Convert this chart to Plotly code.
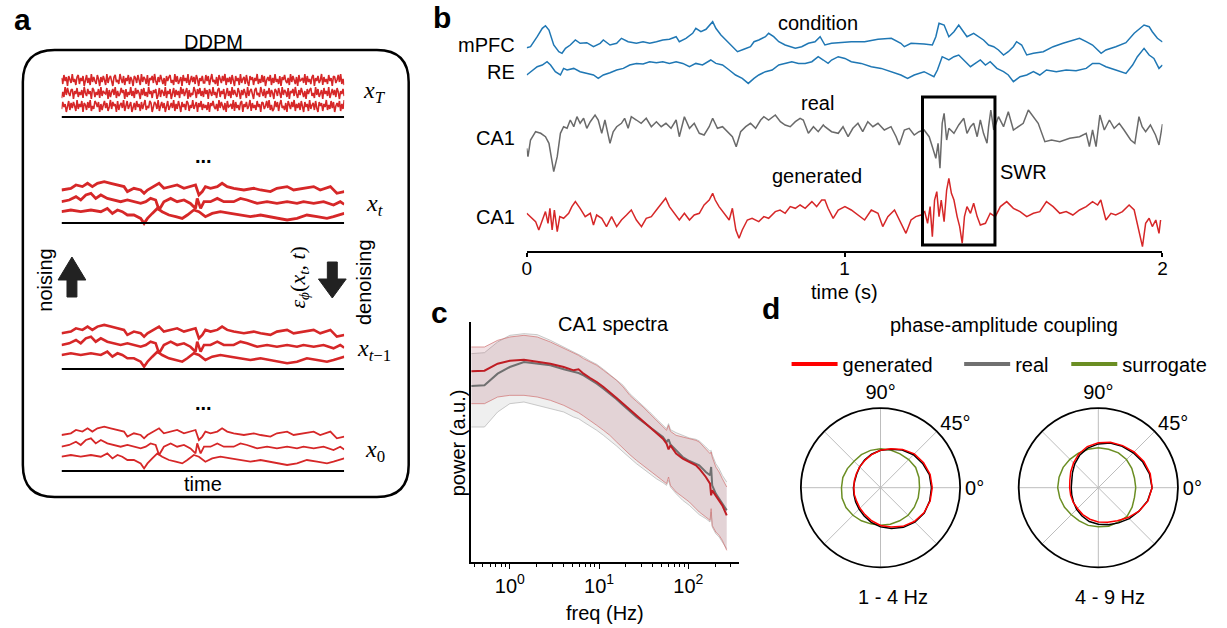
import numpy as np
import plotly.graph_objects as go

W, H = 1227, 628


def fx(x):
    return x / W


def fy(y):
    return 1 - y / H


RED = "#d62728"
BLUE = "#1f77b4"
FONT = "Liberation Sans, Arial, sans-serif"
SERIF = "Liberation Serif, DejaVu Serif, serif"

# ---------------- panel a: diffusion schematic (normalised time, a.u.) ----------------
noise = [2, -4, 5, -1, 3, -6, 4, 0, -3, 6, -2, 1, -5, 3, 5, -4, 2, -1, 4, -6, 0, 5, -3, 2, -5,
         6, -2, 3, -1, -4, 5, 1, -6, 3, -2, 4, 0, -5, 6, -3, 2, 4, -1, -6, 3, 5, -2, 0, -4, 6,
         1, -3, 4, -5, 2, -1, 5, -4, 3, 0, -6, 4, 2, -3, 5, -1, -5, 6, -2, 3, 1, -4, 5, -6, 2,
         0, 4, -3, 6, -1, -5, 3, -2, 5, 1, -4, 2, -6, 4, -1, 3, 5, -3, 0, -5, 6, -2, 4, -4, 1,
         3, -6, 5, -1, 2, -3, 6, -5, 0, 4, -2, 3, -4, 5, 1, -6, 2, -1, 4, -3]
noise2 = [-3, 5, -1, 4, -5, 2, 6, -2, 0, -4, 3, -6, 5, 1, -3, 4, -1, 6, -5, 2, -2, 3, -4, 5, 0,
          -6, 4, -1, 2, -5, 6, -3, 1, 3, -4, 5, -2, -6, 4, 0, 3, -5, 2, -1, 6, -4, 1, -3, 5, -2,
          4, -6, 0, 3, -1, 5, -5, 2, -3, 6, -2, 1, -4, 4, -6, 3, 0, 5, -1, -3, 2, -5, 6, -2, 4,
          1, -4, 3, -6, 5, -1, 0, 2, -3, 6, -5, 4, -2, 1, -4, 3, 5, -6, 2, -1, 4, -3, 0, 6, -5,
          3, -2, 1, -4, 5, -1, 2, -6, 4, 3, -3, 0, 5, -2, 6, -4, 1, -5]

x0_top = [(0.000, -1.7), (0.033, 0), (0.051, 3.3), (0.074, 1.7), (0.092, 5), (0.109, 1.7),
          (0.127, 5), (0.151, 6.7), (0.174, 5), (0.198, 3.3), (0.221, 1.7), (0.233, -3.3),
          (0.256, 0), (0.280, -1.7), (0.292, -5), (0.304, -1.7), (0.327, 1.7), (0.345, 5),
          (0.362, 0), (0.386, 1.7), (0.409, 3.3), (0.433, 0), (0.456, 1.7), (0.474, 3.3),
          (0.486, -6.7), (0.498, -3.3), (0.509, 1.7), (0.527, 0), (0.551, 1.7), (0.568, 5),
          (0.586, 1.7), (0.609, 0), (0.645, -1.7), (0.680, 0), (0.704, -1.7), (0.739, -3.3),
          (0.762, 0), (0.798, 1.7), (0.821, -1.7), (0.856, 0), (0.892, 1.7), (0.915, -1.7),
          (0.951, 1.7), (0.974, -5), (1.000, -3.3)]
x0_mid = [(0.000, 0), (0.027, 1.7), (0.051, 5), (0.068, 1.7), (0.086, 6.7), (0.104, 8.3),
          (0.121, 3.3), (0.139, 6.7), (0.162, 3.3), (0.186, 1.7), (0.209, 0), (0.233, 1.7),
          (0.256, 0), (0.280, -1.7), (0.298, 0), (0.315, 3.3), (0.333, 1.7), (0.345, -8.3),
          (0.362, 0), (0.386, 3.3), (0.409, 0), (0.433, 1.7), (0.456, -1.7), (0.474, -6.7),
          (0.480, 3.3), (0.492, -6.7), (0.504, 0), (0.527, 0), (0.551, 3.3), (0.574, 0),
          (0.609, 0), (0.633, 3.3), (0.656, 1.7), (0.692, -1.7), (0.727, 0), (0.762, -1.7),
          (0.798, 0), (0.833, -1.7), (0.856, 0), (0.892, -1.7), (0.927, 0), (0.962, -3.3),
          (0.986, 0), (1.000, -2.7)]
x0_bot = [(0.000, 0), (0.033, 1.7), (0.068, 0), (0.104, 1.7), (0.139, 0), (0.162, 3.3),
          (0.180, -1.7), (0.198, 1.7), (0.215, 0), (0.233, -3.3), (0.256, -3.3), (0.280, -6.7),
          (0.292, -11.7), (0.304, -6.7), (0.321, -1.7), (0.339, 3.3), (0.356, 0), (0.380, -3.3),
          (0.404, -5), (0.427, -6.7), (0.445, -3.3), (0.468, 1.7), (0.486, 0), (0.509, -5),
          (0.533, -1.7), (0.562, 0), (0.598, -1.7), (0.633, -3.3), (0.668, -5), (0.704, -3.3),
          (0.739, -5), (0.762, -6.7), (0.798, -8.3), (0.833, -6.7), (0.868, -3.3), (0.904, -5),
          (0.939, -6.7), (0.962, -5), (0.986, -3.3), (1.000, -1.7)]

# ---------------- panel b: 2 s of LFP (time in s, a.u.) ----------------
mpfc = [(0.000, 2.3), (0.012, 3.3), (0.033, 13.3), (0.049, 21.7), (0.059, 24.3), (0.070, 20.0),
        (0.085, 5.0), (0.101, -1.7), (0.111, -3.3), (0.122, 1.7), (0.137, 5.0), (0.153, 10.0),
        (0.168, 6.7), (0.189, 7.3), (0.210, 3.3), (0.231, 6.7), (0.241, 10.0), (0.262, 5.0),
        (0.283, 6.7), (0.298, 11.7), (0.319, 8.3), (0.345, 6.7), (0.366, 8.3), (0.387, 6.7),
        (0.408, 8.3), (0.428, 10.0), (0.449, 10.7), (0.470, 13.3), (0.480, 8.3), (0.501, 11.7),
        (0.522, 16.7), (0.532, 21.7), (0.548, 18.3), (0.564, 20.7), (0.585, 28.3), (0.595, 21.7),
        (0.611, 15.0), (0.626, 10.0), (0.647, 3.3), (0.663, -1.7), (0.683, 0.7), (0.704, 3.3),
        (0.715, 8.3), (0.730, 10.0), (0.751, 13.3), (0.761, 16.7), (0.777, 13.3), (0.793, 8.3),
        (0.813, 5.0), (0.829, 3.3), (0.845, 1.7), (0.865, 3.3), (0.886, 6.7), (0.907, 8.3),
        (0.923, 13.3), (0.938, 5.0), (0.959, 6.7), (0.980, 7.3), (1.021, 8.3), (1.063, 8.3),
        (1.105, 10.7), (1.147, 11.7), (1.177, 6.7), (1.188, 3.3), (1.209, 6.7), (1.250, 6.0),
        (1.276, 5.0), (1.287, 13.3), (1.297, 26.7), (1.313, 25.0), (1.328, 13.3), (1.344, 18.3),
        (1.359, 25.0), (1.370, 20.0), (1.385, 13.3), (1.406, 16.7), (1.427, 11.7), (1.437, 10.0),
        (1.453, 5.0), (1.469, 3.3), (1.484, 0.0), (1.500, -5.0), (1.515, -1.7), (1.531, 3.3),
        (1.541, 8.3), (1.557, 5.0), (1.573, -5.0), (1.594, -3.3), (1.625, -1.7), (1.656, 3.3),
        (1.687, 6.7), (1.718, 10.0), (1.739, 11.7), (1.760, 8.3), (1.780, 5.0), (1.807, -3.3),
        (1.822, 0.0), (1.853, 3.3), (1.885, 7.3), (1.911, 16.7), (1.932, 21.7), (1.942, 25.0),
        (1.958, 23.3), (1.968, 18.3), (1.984, 11.7), (2.000, 8.0)]
re = [(0.000, -3.3), (0.012, 0), (0.033, 5), (0.049, 6.7), (0.064, 10), (0.075, 6.7), (0.090, 0),
      (0.106, -3.3), (0.116, 3.3), (0.127, 1.7), (0.148, 3.3), (0.168, 0), (0.189, -1.7),
      (0.210, -3.3), (0.225, -6.7), (0.241, -3.3), (0.262, -1), (0.283, 1.7), (0.304, 3.3),
      (0.324, 6.7), (0.345, 8.3), (0.366, 7.7), (0.387, 10), (0.408, 9), (0.428, 10),
      (0.449, 8.3), (0.470, 10), (0.491, 8.3), (0.512, 5), (0.532, 8.3), (0.553, 6.7),
      (0.579, 11.7), (0.595, 8.3), (0.616, 6.7), (0.637, 1.7), (0.657, -3.3), (0.678, -6.7),
      (0.697, -11.7), (0.715, -6.7), (0.730, -3.3), (0.751, 0), (0.772, 1.7), (0.793, 6.7),
      (0.813, 8.3), (0.834, 10), (0.855, 8.3), (0.876, 8.3), (0.897, 10), (0.917, 15),
      (0.933, 11.7), (0.948, 8.3), (0.959, 11.7), (0.980, 15), (1.001, 13.3), (1.021, 10),
      (1.052, 8.3), (1.084, 5), (1.115, 3.3), (1.147, 0), (1.177, -3.3), (1.198, -6.7),
      (1.219, -3.3), (1.250, 0), (1.281, -5), (1.292, 1.7), (1.307, 15), (1.328, 11.7),
      (1.344, 15), (1.359, 16.7), (1.375, 11.7), (1.396, 5), (1.411, 8.3), (1.427, 11.7),
      (1.443, 6.7), (1.458, 10), (1.479, 3.3), (1.500, 0), (1.515, -3.3), (1.531, -10),
      (1.552, -5), (1.573, -3.3), (1.594, 0), (1.614, -3.3), (1.635, 1.7), (1.666, 0),
      (1.697, 1.7), (1.728, 1), (1.760, 3.3), (1.780, 8.3), (1.801, 8.3), (1.822, 5),
      (1.853, 1.7), (1.885, -1.7), (1.906, 6.7), (1.921, 15), (1.942, 23.3), (1.958, 16.7),
      (1.973, 13.3), (1.989, 3.3), (2.000, 6.7)]
ca1_real = [(0.000, -18.3), (0.004, -26.7), (0.012, -10), (0.028, -1.7), (0.044, -3.3),
            (0.059, -6.7), (0.070, -13.3), (0.080, -30), (0.085, -41.7), (0.096, -26.7),
            (0.106, -3.3), (0.116, 3.3), (0.127, 1.7), (0.137, 10), (0.148, 3.3), (0.158, 13.3),
            (0.168, 6.7), (0.179, 11.7), (0.189, 1.7), (0.200, 8.3), (0.215, 15), (0.225, 10),
            (0.236, -3.3), (0.246, 10), (0.262, -13.3), (0.272, -1.7), (0.283, 3.3), (0.298, 6.7),
            (0.308, 11.7), (0.319, 1.7), (0.329, 13.3), (0.345, 10), (0.360, 6.7), (0.376, 11.7),
            (0.392, 3.3), (0.408, 8.3), (0.423, 3.3), (0.438, 6.7), (0.454, 1.7), (0.470, 10),
            (0.480, -6.7), (0.496, 13.3), (0.512, 1.7), (0.527, 6.7), (0.543, -3.3), (0.558, -5),
            (0.574, 3.3), (0.585, 11.7), (0.600, 1.7), (0.616, 3.3), (0.632, -1.7), (0.647, -6.7),
            (0.659, -16.7), (0.673, -1.7), (0.689, 3.3), (0.704, 6.7), (0.720, 1.7), (0.736, 10),
            (0.746, 13.3), (0.761, 10), (0.782, 15), (0.798, 8.3), (0.813, 5), (0.829, 3.3),
            (0.845, 8.3), (0.860, 11.7), (0.870, 10), (0.886, -3.3), (0.902, 3.3), (0.917, -1.7),
            (0.933, 5), (0.938, 3.3), (0.959, -1.7), (0.980, -3.3), (0.995, 3.3), (1.011, -6.7),
            (1.026, 1.7), (1.042, 6.7), (1.057, -1.7), (1.073, 8.3), (1.089, 3.3), (1.105, 6.7),
            (1.125, 0), (1.146, 3.3), (1.162, -6.7), (1.172, -15), (1.188, 0), (1.203, 1.7),
            (1.219, -5), (1.234, -1.7), (1.250, 0), (1.266, -6.7), (1.276, -16.7), (1.287, -28.3),
            (1.294, -13.3), (1.300, -38.3), (1.307, 6.7), (1.313, 16.7), (1.321, -10),
            (1.328, 1.7), (1.344, -3.3), (1.359, 5), (1.375, 11.7), (1.385, -3.3), (1.396, 3.3),
            (1.406, 6.7), (1.417, -6.7), (1.427, 10), (1.437, -3.3), (1.448, -13.3), (1.453, 3.3),
            (1.460, 20), (1.469, 0), (1.484, 13.3), (1.500, 3.3), (1.515, 18.3), (1.531, 0),
            (1.547, 3.3), (1.562, 6.7), (1.578, 20), (1.594, 13.3), (1.609, 6.7), (1.630, -11.7),
            (1.651, -10), (1.677, -11.7), (1.708, -8.3), (1.739, -6.7), (1.760, -3.3),
            (1.770, -16.7), (1.780, 0), (1.791, -16.7), (1.803, 15), (1.817, 0), (1.833, 10),
            (1.848, 1.7), (1.864, 6.7), (1.879, 0), (1.900, -10), (1.913, -13.3), (1.926, 13.3),
            (1.936, 3.3), (1.947, -1.7), (1.962, 5), (1.978, -5), (1.989, -15), (1.996, -3.3),
            (2.000, 6)]
ca1_gen = [(0.000, 0), (0.012, -3.3), (0.028, -8.3), (0.038, -16.7), (0.049, -6.7), (0.059, 1.7),
           (0.067, -10), (0.073, 5), (0.080, -16.7), (0.087, 3.3), (0.096, -18.3), (0.104, -3.3),
           (0.116, -5), (0.132, 0), (0.142, 6.7), (0.153, 11.7), (0.168, 5), (0.184, -3.3),
           (0.200, 0), (0.210, -11.7), (0.220, -1.7), (0.236, -5), (0.251, -13.3), (0.267, -3.3),
           (0.283, -13.3), (0.298, -6.7), (0.314, -1.7), (0.329, 3.3), (0.345, -6.7),
           (0.361, -13.3), (0.376, -5), (0.392, -3.3), (0.408, 3.3), (0.423, 10), (0.437, 15),
           (0.449, 6.7), (0.465, 0), (0.480, -6.7), (0.496, 0), (0.512, -6.7), (0.527, -1.7),
           (0.543, 0), (0.558, 8.3), (0.574, 13.3), (0.585, 20), (0.593, 13.3), (0.605, 6.7),
           (0.621, 0), (0.637, -6.7), (0.647, 5), (0.658, -16.7), (0.668, -25), (0.678, -16.7),
           (0.694, -6.7), (0.709, -5), (0.730, -8.3), (0.746, -3.3), (0.761, -5), (0.782, 1.7),
           (0.797, 3.3), (0.813, 0), (0.829, 6.7), (0.845, 5), (0.860, 8.3), (0.876, 5),
           (0.897, 11.7), (0.912, 6.7), (0.928, 13.3), (0.938, 13.3), (0.948, 5), (0.964, -5),
           (0.980, 3.3), (1.001, 6.7), (1.021, 3.3), (1.042, -1.7), (1.063, -6.7), (1.084, 3.3),
           (1.105, 0), (1.120, -13.3), (1.136, -3.3), (1.157, 3.3), (1.177, -10), (1.193, -20),
           (1.209, -6.7), (1.224, -3.3), (1.240, -1.7), (1.252, 1.7), (1.261, -10), (1.269, 6.7),
           (1.276, -23.3), (1.283, 13.3), (1.290, 21.7), (1.297, -3.3), (1.304, 13.3),
           (1.313, -8.3), (1.321, 23.3), (1.328, 35), (1.336, 20), (1.344, 13.3), (1.354, -3.3),
           (1.362, -13.3), (1.370, -30), (1.377, -3.3), (1.385, 6.7), (1.396, 0), (1.406, 10),
           (1.417, -3.3), (1.427, -11.7), (1.443, -10), (1.458, 0), (1.474, -3.3), (1.490, 6.7),
           (1.510, 11.7), (1.531, 5), (1.552, 1.7), (1.573, -3.3), (1.594, 0), (1.614, 1.7),
           (1.635, 11.7), (1.656, 6.7), (1.677, 0), (1.697, 1.7), (1.718, -1.7), (1.739, 3.3),
           (1.760, 6.7), (1.780, 11.7), (1.796, 8.3), (1.806, 13.3), (1.822, -6.7), (1.838, 0),
           (1.853, -1.7), (1.874, 1.7), (1.895, 8.3), (1.911, 3.3), (1.921, -10), (1.932, -25),
           (1.937, -33.3), (1.947, -10), (1.958, -5), (1.968, -13.3), (1.979, -6.7),
           (1.989, -20), (1.994, -6.7)]
swr_window = (1.245, 1.473)

# ---------------- panel c: CA1 spectra (Hz, log10 power a.u.) ----------------
freq = [0.37, 0.52, 0.73, 1.0, 1.44, 2.03, 2.85, 4.02, 5.19, 5.89, 6.7, 7.94, 9.42, 11.2, 13.2,
        15.7, 18.6, 22.1, 26.2, 31.1, 36.9, 43.7, 51.9, 57, 60, 63, 72.9, 86.5, 102.6, 121.6,
        132.5, 157, 175, 180, 185, 203, 221, 240, 269]
gen_mean = [5.72, 5.74, 5.95, 6.04, 6.07, 6.02, 5.95, 5.85, 5.75, 5.78, 5.65, 5.52, 5.40, 5.25,
            5.10, 4.92, 4.75, 4.57, 4.40, 4.22, 4.05, 3.88, 3.70, 3.55, 3.38, 3.50, 3.25, 3.10,
            3.00, 2.90, 2.80, 2.55, 2.35, 2.00, 2.15, 2.00, 1.85, 1.70, 1.40]
real_mean = [5.28, 5.30, 5.65, 5.85, 6.00, 5.95, 5.90, 5.78, 5.70, 5.67, 5.60, 5.48, 5.35, 5.20,
             5.05, 4.88, 4.70, 4.52, 4.35, 4.20, 4.05, 3.90, 3.75, 3.60, 3.68, 3.53, 3.35, 3.15,
             3.03, 2.95, 2.90, 2.70, 2.60, 2.85, 2.30, 2.05, 1.90, 1.75, 1.55]
gen_hi = [6.45, 6.45, 6.65, 6.75, 6.80, 6.75, 6.60, 6.40, 6.25, 6.20, 6.10, 6.00, 5.90, 5.75,
          5.60, 5.45, 5.25, 5.00, 4.82, 4.65, 4.45, 4.25, 4.05, 3.95, 4.10, 3.92, 3.80, 3.75,
          3.70, 3.65, 3.60, 3.40, 3.25, 3.30, 3.15, 2.85, 2.70, 2.50, 2.25]
gen_lo = [4.75, 4.75, 4.95, 5.00, 5.00, 4.95, 4.85, 4.70, 4.55, 4.48, 4.38, 4.25, 4.10, 3.95,
          3.80, 3.60, 3.40, 3.22, 3.05, 2.90, 2.75, 2.60, 2.45, 2.35, 2.55, 2.30, 2.10, 1.95,
          1.80, 1.60, 1.50, 1.35, 1.25, 1.60, 1.10, 0.90, 0.80, 0.65, 0.35]
real_hi = [6.25, 6.28, 6.60, 6.80, 6.85, 6.82, 6.65, 6.45, 6.30, 6.24, 6.15, 6.03, 5.93, 5.78,
           5.63, 5.48, 5.30, 5.05, 4.87, 4.70, 4.50, 4.30, 4.10, 4.00, 4.15, 3.97, 3.88, 3.80,
           3.72, 3.68, 3.63, 3.45, 3.32, 3.35, 3.22, 2.95, 2.80, 2.60, 2.40]
real_lo = [4.05, 4.05, 4.50, 4.75, 4.80, 4.70, 4.60, 4.50, 4.35, 4.30, 4.20, 4.08, 3.95, 3.80,
           3.65, 3.48, 3.30, 3.12, 2.95, 2.80, 2.65, 2.50, 2.38, 2.30, 2.45, 2.25, 2.05, 1.85,
           1.70, 1.52, 1.42, 1.30, 1.20, 1.50, 1.05, 0.85, 0.75, 0.60, 0.40]
freq_ticks = [1, 10, 100]
freq_ticktext = ["10<sup>0</sup>", "10<sup>1</sup>", "10<sup>2</sup>"]
freq_minor = [0.4, 0.5, 0.6, 0.7, 0.8, 0.9, 2, 3, 4, 5, 6, 7, 8, 9, 20, 30, 40, 50, 60, 70, 80,
              90, 200, 300]

# ---------------- panel d: phase-amplitude coupling ----------------
phase_deg = [0, 15, 30, 45, 60, 75, 90, 105, 120, 135, 150, 165, 180, 195, 210, 225, 240, 255,
             270, 285, 300, 315, 330, 345]
pac_gen_14 = [0.65, 0.645, 0.625, 0.60, 0.555, 0.505, 0.47, 0.43, 0.395, 0.37, 0.35, 0.34, 0.335,
              0.34, 0.345, 0.365, 0.39, 0.43, 0.475, 0.51, 0.56, 0.60, 0.63, 0.645]
pac_real_14 = [0.64, 0.635, 0.61, 0.585, 0.545, 0.50, 0.47, 0.435, 0.40, 0.37, 0.345, 0.335,
               0.34, 0.345, 0.36, 0.38, 0.41, 0.45, 0.49, 0.53, 0.575, 0.61, 0.635, 0.64]
pac_sur_14 = [0.49, 0.50, 0.51, 0.50, 0.49, 0.49, 0.49, 0.485, 0.48, 0.47, 0.48, 0.49, 0.49,
              0.50, 0.50, 0.49, 0.48, 0.47, 0.47, 0.475, 0.48, 0.49, 0.49, 0.49]
pac_gen_49 = [0.675, 0.675, 0.66, 0.635, 0.61, 0.59, 0.565, 0.535, 0.49, 0.44, 0.40, 0.37, 0.36,
              0.36, 0.365, 0.37, 0.39, 0.41, 0.43, 0.45, 0.48, 0.53, 0.59, 0.645]
pac_real_49 = [0.675, 0.665, 0.645, 0.62, 0.60, 0.58, 0.55, 0.515, 0.47, 0.42, 0.375, 0.345,
               0.34, 0.345, 0.36, 0.385, 0.41, 0.44, 0.46, 0.48, 0.51, 0.55, 0.59, 0.64]
pac_sur_49 = [0.47, 0.47, 0.485, 0.50, 0.505, 0.50, 0.50, 0.50, 0.50, 0.505, 0.51, 0.51, 0.51,
              0.50, 0.49, 0.48, 0.48, 0.49, 0.49, 0.50, 0.50, 0.51, 0.49, 0.47]
angle_ticks = [0, 45, 90, 135, 180, 225, 270, 315]
angle_labels = ["0°", "45°", "90°", "", "", "", "", ""]

fig = go.Figure()

# ---- panel a traces ----
stage_offsets = {"x_t": 245.0, "x_tm1": 101.7, "x_0": 0.0}
trace_levels = [66.7, 53.3, 43.3]
stage_width = {"x_t": 2.8, "x_tm1": 2.6, "x_0": 1.8}
for stage, shift in stage_offsets.items():
    for pts, lvl in zip([x0_top, x0_mid, x0_bot], trace_levels):
        u, v = zip(*pts)
        fig.add_trace(go.Scatter(x=u, y=np.array(v) + lvl + shift, mode="lines",
                                 line=dict(color=RED, width=stage_width[stage]),
                                 xaxis="x", yaxis="y", showlegend=False, hoverinfo="skip"))

noise_traces = [noise + noise2, noise2[::-1] + noise, noise[::-1] + noise2[60:] + noise2[:60]]
for seq, lvl in zip(noise_traces, [420, 407, 394]):
    fig.add_trace(go.Scatter(x=np.linspace(0, 1, len(seq)), y=np.array(seq) + lvl, mode="lines",
                             line=dict(color=RED, width=1.6),
                             xaxis="x", yaxis="y", showlegend=False, hoverinfo="skip"))

# ---- panel b traces ----
for pts, lvl, col in [(mpfc, 201.0, BLUE), (re, 179.3, BLUE),
                      (ca1_real, 121.0, "#6a6a6a"), (ca1_gen, 37.7, RED)]:
    t, v = zip(*pts)
    fig.add_trace(go.Scatter(x=t, y=np.array(v) + lvl, mode="lines",
                             line=dict(color=col, width=1.5),
                             xaxis="x2", yaxis="y2", showlegend=False, hoverinfo="skip"))

# ---- panel c traces ----
fig.add_trace(go.Scatter(x=freq, y=real_lo, mode="lines", line=dict(color="rgba(180,180,180,0.7)", width=1),
                         xaxis="x3", yaxis="y3", showlegend=False, hoverinfo="skip"))
fig.add_trace(go.Scatter(x=freq, y=real_hi, mode="lines", line=dict(color="rgba(180,180,180,0.7)", width=1),
                         fill="tonexty", fillcolor="rgba(160,160,160,0.17)",
                         xaxis="x3", yaxis="y3", showlegend=False, hoverinfo="skip"))
fig.add_trace(go.Scatter(x=freq, y=gen_lo, mode="lines", line=dict(color="rgba(210,120,120,0.75)", width=1),
                         xaxis="x3", yaxis="y3", showlegend=False, hoverinfo="skip"))
fig.add_trace(go.Scatter(x=freq, y=gen_hi, mode="lines", line=dict(color="rgba(210,120,120,0.75)", width=1),
                         fill="tonexty", fillcolor="rgba(165,70,85,0.16)",
                         xaxis="x3", yaxis="y3", showlegend=False, hoverinfo="skip"))
fig.add_trace(go.Scatter(x=freq, y=real_mean, mode="lines", line=dict(color="#707070", width=2),
                         xaxis="x3", yaxis="y3", showlegend=False, hoverinfo="skip"))
fig.add_trace(go.Scatter(x=freq, y=gen_mean, mode="lines", line=dict(color="#bf1d24", width=2),
                         xaxis="x3", yaxis="y3", showlegend=False, hoverinfo="skip"))

# ---- panel d traces ----
theta_closed = phase_deg + [360]
for sub, curves in [("polar", [pac_sur_14, pac_real_14, pac_gen_14]),
                    ("polar2", [pac_sur_49, pac_real_49, pac_gen_49])]:
    for r, col in zip(curves, ["#6b8e23", "#000000", "#ff0000"]):
        fig.add_trace(go.Scatterpolar(r=r + r[:1], theta=theta_closed, mode="lines",
                                      line=dict(color=col, width=1.5), subplot=sub,
                                      showlegend=False, hoverinfo="skip"))

for name, col, leg in [("generated", "#ff0000", "legend"), ("real", "#707070", "legend2"),
                       ("surrogate", "#6b8e23", "legend3")]:
    fig.add_trace(go.Scatterpolar(r=[None], theta=[None], mode="lines", name=name,
                                  line=dict(color=col, width=4), subplot="polar",
                                  legend=leg, showlegend=True))

# ---- shapes ----
shapes = []
r_x, r_y = 32 / W, 32 / H
bx0, bx1, by0, by1 = fx(18), fx(407), fy(497), fy(50)
box_path = (f"M {bx0 + r_x},{by1} L {bx1 - r_x},{by1} Q {bx1},{by1} {bx1},{by1 - r_y} "
            f"L {bx1},{by0 + r_y} Q {bx1},{by0} {bx1 - r_x},{by0} "
            f"L {bx0 + r_x},{by0} Q {bx0},{by0} {bx0},{by0 + r_y} "
            f"L {bx0},{by1 - r_y} Q {bx0},{by1} {bx0 + r_x},{by1} Z")
shapes.append(dict(type="path", path=box_path, xref="paper", yref="paper",
                   line=dict(color="black", width=2.5)))

for base in [383, 277, 131, 29]:
    shapes.append(dict(type="line", xref="x", yref="y", x0=0, x1=1, y0=base, y1=base,
                       line=dict(color="black", width=2)))


def arrow_path(cx, tip, head_base, tail, head_half=14, shaft_half=5):
    pts = [(cx - shaft_half, tail), (cx - shaft_half, head_base), (cx - head_half, head_base),
           (cx, tip), (cx + head_half, head_base), (cx + shaft_half, head_base),
           (cx + shaft_half, tail)]
    return "M " + " L ".join(f"{fx(a)},{fy(b)}" for a, b in pts) + " Z"


for p in [arrow_path(67.5, 257, 280, 297), arrow_path(330, 298, 279, 262)]:
    shapes.append(dict(type="path", path=p, xref="paper", yref="paper",
                       fillcolor="#222222", line=dict(color="#222222", width=1)))

shapes.append(dict(type="rect", xref="x2", yref="y2", x0=swr_window[0], x1=swr_window[1],
                   y0=6, y1=154, line=dict(color="black", width=3)))

# ---- text ----
ann = []


def text(s, x, y, size=20, bold=False, angle=0, xanchor="center", family=FONT):
    ann.append(dict(text=f"<b>{s}</b>" if bold else s, x=fx(x), y=fy(y), xref="paper",
                    yref="paper", showarrow=False, xanchor=xanchor, yanchor="middle",
                    textangle=angle, font=dict(size=size, family=family, color="black")))


for lab, x, y in [("a", 18, 20), ("b", 441, 18), ("c", 438, 312), ("d", 772, 309)]:
    text(lab, x, y, size=30, bold=True)

text("DDPM", 210, 42)
text("<b>...</b>", 200, 156)
text("<b>...</b>", 200, 403)
text("time", 200, 484)
text("noising", 40, 280, angle=-90)
text("denoising", 362, 282, angle=-90)
text("<i>ε</i><sub><i>ϕ</i></sub>(<i>x</i><sub><i>t</i></sub>, <i>t</i>)", 296, 278, size=22,
     angle=-90, family=SERIF)
text("<i>x</i><sub><i>T</i></sub>", 373, 92, size=24, family=SERIF)
text("<i>x</i><sub><i>t</i></sub>", 373, 205, size=24, family=SERIF)
text("<i>x</i><sub><i>t</i>−1</sub>", 372, 350, size=24, family=SERIF)
text("<i>x</i><sub>0</sub>", 373, 451, size=24, family=SERIF)

text("mPFC", 516, 45, xanchor="right")
text("RE", 516, 72, xanchor="right")
text("CA1", 516, 138, xanchor="right")
text("CA1", 516, 217, xanchor="right")
text("condition", 820, 23)
text("real", 819, 103)
text("generated", 819, 176)
text("SWR", 1027, 172)
text("time (s)", 846, 292)

text("CA1 spectra", 614, 324)
text("power (a.u.)", 457, 443, angle=-90)
text("freq (Hz)", 605, 613)

text("phase-amplitude coupling", 1007, 325)
text("1 - 4 Hz", 895, 597)
text("4 - 9 Hz", 1114, 597)

axis_hidden = dict(visible=False, showgrid=False, zeroline=False)


def polar_domain(cx, cy, rad):
    return dict(x=[fx(cx - rad), fx(cx + rad)], y=[fy(cy + rad), fy(cy - rad)])


def polar_layout(cx):
    return dict(
        domain=polar_domain(cx, 487.7, 80.3), bgcolor="white", hole=0,
        radialaxis=dict(visible=False, range=[0, 1], showgrid=False),
        angularaxis=dict(rotation=0, direction="counterclockwise", tickmode="array",
                         tickvals=angle_ticks, ticktext=angle_labels, ticks="",
                         showline=True, linecolor="black", linewidth=1.8,
                         showgrid=True, gridcolor="#bdbdbd", gridwidth=1,
                         tickfont=dict(size=20, family=FONT, color="black")))


legend_common = dict(orientation="h", yanchor="middle", xanchor="left", bgcolor="rgba(0,0,0,0)",
                     borderwidth=0, itemwidth=46,
                     font=dict(size=20, family=FONT, color="black"))

fig.update_layout(
    width=W, height=H, margin=dict(l=0, r=0, t=0, b=0),
    paper_bgcolor="white", plot_bgcolor="rgba(0,0,0,0)",
    font=dict(family=FONT, size=20, color="black"),
    xaxis=dict(domain=[fx(57), fx(342)], range=[0, 1], **axis_hidden),
    yaxis=dict(domain=[fy(480), fy(60)], range=[20, 440], **axis_hidden),
    xaxis2=dict(domain=[fx(526), fx(1167)], range=[0, 2], tickvals=[0, 1, 2],
                showline=True, linecolor="black", linewidth=1.5, ticks="outside",
                ticklen=4, tickwidth=1.5, tickcolor="black", showgrid=False, zeroline=False,
                ticklabelstandoff=-5, tickfont=dict(size=19), anchor="y2"),
    yaxis2=dict(domain=[fy(251), fy(15)], range=[0, 236], anchor="x2", **axis_hidden),
    xaxis3=dict(domain=[fx(470), fx(740)], type="log", range=[-0.433, 2.567],
                tickvals=freq_ticks, ticktext=freq_ticktext, showline=True,
                linecolor="black", linewidth=1.5, ticks="outside", ticklen=5,
                tickwidth=1.2, tickcolor="black", showgrid=False, zeroline=False,
                tickfont=dict(size=20), anchor="y3",
                minor=dict(tickvals=freq_minor, ticks="outside", ticklen=3,
                           tickwidth=1, tickcolor="black", showgrid=False)),
    yaxis3=dict(domain=[fy(562), fy(322)], range=[0, 7.2], showline=True, linecolor="black",
                linewidth=1.5, showticklabels=False, ticks="", showgrid=False,
                zeroline=False, anchor="x3"),
    polar=polar_layout(882.7),
    polar2=polar_layout(1102.3),
    legend=dict(x=fx(788), y=fy(364), **legend_common),
    legend2=dict(x=fx(962), y=fy(364), **legend_common),
    legend3=dict(x=fx(1070), y=fy(364), **legend_common),
    shapes=shapes,
    annotations=ann,
)

fig.write_html("out.html")
